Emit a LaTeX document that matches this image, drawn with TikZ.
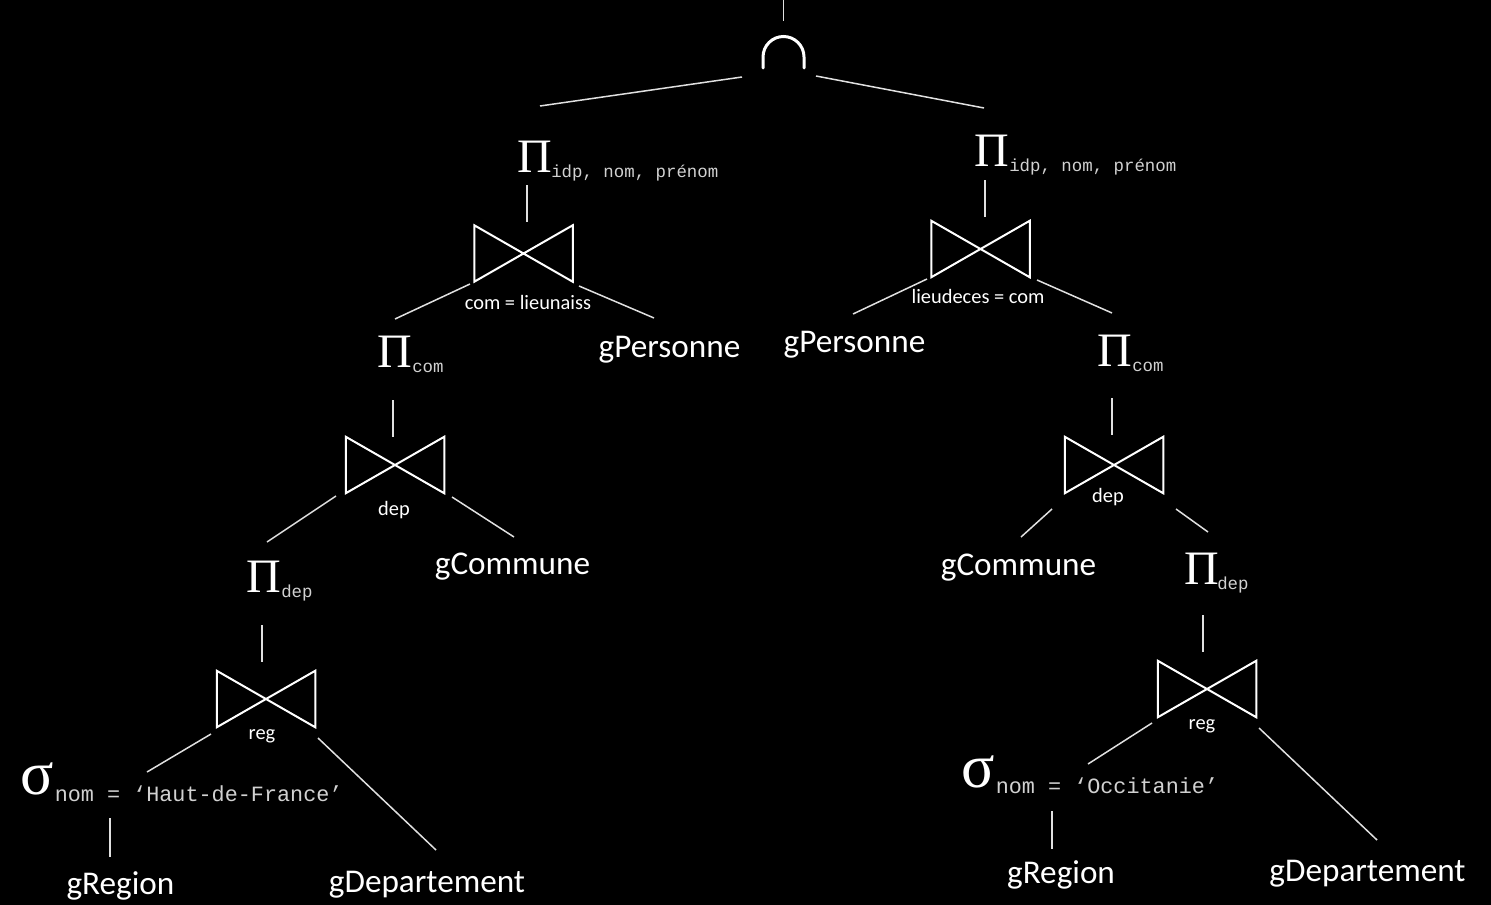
\documentclass[tikz,border=0pt]{standalone}
\usepackage{fontspec}
\setmainfont{Carlito}
\newfontfamily\opfont{Liberation Serif}
\newfontfamily\codefont{Liberation Mono}

\tikzset{every picture/.style={line width=0.75pt}}
\tikzset{
  op/.style={anchor=base, inner sep=0pt, font=\opfont\fontsize{24}{24}\selectfont},
  selop/.style={anchor=base, inner sep=0pt, font=\opfont\fontsize{31}{31}\selectfont},
  attr/.style={anchor=base west, inner sep=0pt, text=white!82!black, font=\codefont\fontsize{8.7}{9}\selectfont},
  cond/.style={anchor=base west, inner sep=0pt, text=white!82!black, font=\codefont\fontsize{10.9}{11}\selectfont},
  rel/.style={anchor=base, inner sep=0pt, font=\fontsize{16.6}{18}\selectfont},
  joinlab/.style={anchor=base, inner sep=0pt, font=\fontsize{10.2}{11}\selectfont},
  bowtie/.style={minimum width=48.5pt, minimum height=27.5pt, inner sep=0pt},
  link/.style={draw=white!88!black, line width=0.75pt},
}

\begin{document}
\begin{tikzpicture}[x=0.5pt,y=0.5pt,yscale=-1,xscale=1,white]
\useasboundingbox (0,0) rectangle (1491,904);
\path[fill=black] (-6,-6) rectangle (1497,910);

% Intersection
\coordinate (top) at (783.5,0);
\node[minimum width=20.5pt, minimum height=15.5pt, inner sep=0pt] (inter) at (783.5,52.5) {};
\draw[line width=1.5pt, line cap=round] (763,68) -- (763,57) .. controls (763,45.7) and (772.2,36.5) .. (783.5,36.5) .. controls (794.8,36.5) and (804,45.7) .. (804,57) -- (804,68);

% Projections
\node[op] (p1) at (535,172) {Π};
\node[attr] (p1s) at (550.5,177) {idp, nom, prénom};
\node[op] (p2) at (992,166) {Π};
\node[attr] (p2s) at (1008.5,171) {idp, nom, prénom};
\node[op] (p3) at (395,367) {Π};
\node[attr] (p3s) at (411.5,372) {com};
\node[op] (p4) at (1115,366) {Π};
\node[attr] (p4s) at (1131.5,371) {com};
\node[op] (p5) at (264,592) {Π};
\node[attr] (p5s) at (280.5,597) {dep};
\node[op] (p6) at (1202,584) {Π};
\node[attr] (p6s) at (1216.5,589) {dep};

% Selections
\node[selop] (s1) at (37,794) {σ};
\node[cond] (s1s) at (54,801) {nom = ‘Haut-de-France’};
\node[selop] (s2) at (978,787) {σ};
\node[cond] (s2s) at (995,793) {nom = ‘Occitanie’};

% Joins
\node[bowtie] (j1) at (523.5,253.5) {};
\node[bowtie] (j2) at (980.5,249) {};
\node[bowtie] (j3) at (395,465) {};
\node[bowtie] (j4) at (1114,465) {};
\node[bowtie] (j5) at (266,699) {};
\node[bowtie] (j6) at (1207,689) {};
\foreach \j in {j1,j2,j3,j4,j5,j6}
  \draw[line width=1pt] (\j.south west) -- (\j.north east) -- (\j.south east) -- (\j.north west) -- cycle;

\node[joinlab] (j1l) at (528,309) {com = lieunaiss};
\node[joinlab] (j2l) at (978,303) {lieudeces = com};
\node[joinlab] (j3l) at (394,515) {dep};
\node[joinlab] (j4l) at (1108,502) {dep};
\node[joinlab] (j5l) at (262,739) {reg};
\node[joinlab] (j6l) at (1202,729) {reg};

% Relations
\node[rel] (r1) at (669.5,357) {gPersonne};
\node[rel] (r2) at (854.5,352) {gPersonne};
\node[rel] (r3) at (512.5,574) {gCommune};
\node[rel] (r4) at (1018.5,575) {gCommune};
\node[rel] (r5) at (120.5,894) {gRegion};
\node[rel] (r6) at (427,892) {gDepartement};
\node[rel] (r7) at (1061,883) {gRegion};
\node[rel] (r8) at (1367.5,881) {gDepartement};

% Straight Lines
\draw[link] (top) -- ([shift={(0,-31.5)}]inter.center);
\draw[link] ([shift={(-41.5,24.5)}]inter.center) -- ([shift={(5,-66)}]p1.base);
\draw[link] ([shift={(32.5,23.5)}]inter.center) -- ([shift={(-8,-58)}]p2.base);
\draw[link] ([shift={(-8,13)}]p1.base) -- ([shift={(3.5,-31.5)}]j1.center);
\draw[link] ([shift={(-7,14)}]p2.base) -- ([shift={(4.5,-32)}]j2.center);
\draw[link] ([shift={(-53.5,30.5)}]j1.center) -- ([shift={(0,-48)}]p3.base);
\draw[link] ([shift={(55.5,32.5)}]j1.center) -- ([shift={(-15.5,-39)}]r1.base);
\draw[link] ([shift={(-53.5,30)}]j2.center) -- ([shift={(-1.5,-38)}]r2.base);
\draw[link] ([shift={(56.5,31)}]j2.center) -- ([shift={(-3,-53)}]p4.base);
\draw[link] ([shift={(-2,33)}]p3.base) -- ([shift={(-2,-28)}]j3.center);
\draw[link] ([shift={(-3,32)}]p4.base) -- ([shift={(-2,-30)}]j4.center);
\draw[link] ([shift={(-59,31)}]j3.center) -- ([shift={(3,-50)}]p5.base);
\draw[link] ([shift={(57,32)}]j3.center) -- ([shift={(1.5,-37)}]r3.base);
\draw[link] ([shift={(-62,44)}]j4.center) -- ([shift={(2.5,-38)}]r4.base);
\draw[link] ([shift={(62,44)}]j4.center) -- ([shift={(6,-52)}]p6.base);
\draw[link] ([shift={(-2,33)}]p5.base) -- ([shift={(-4,-37)}]j5.center);
\draw[link] ([shift={(1,31)}]p6.base) -- ([shift={(-4,-37)}]j6.center);
\draw[link] ([shift={(-55,35)}]j5.center) -- ([shift={(110,-22)}]s1.base);
\draw[link] ([shift={(52,39)}]j5.center) -- ([shift={(9,-42)}]r6.base);
\draw[link] ([shift={(56,17)}]s1s.base west) -- ([shift={(-10.5,-37)}]r5.base);
\draw[link] ([shift={(-55,34)}]j6.center) -- ([shift={(110,-23)}]s2.base);
\draw[link] ([shift={(52,39)}]j6.center) -- ([shift={(9.5,-41)}]r8.base);
\draw[link] ([shift={(57,18)}]s2s.base west) -- ([shift={(-9,-34)}]r7.base);

\end{tikzpicture}
\end{document}
